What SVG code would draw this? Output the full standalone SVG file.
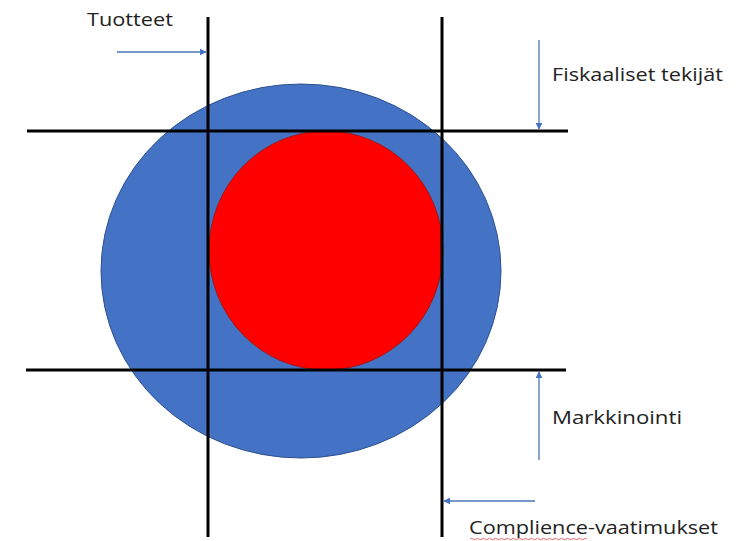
<svg xmlns="http://www.w3.org/2000/svg" width="740" height="541" viewBox="0 0 740 541">
<style>
.lbl{font-family:"Open Sans","Liberation Sans",sans-serif;font-size:19px;fill:#222}
.grid{stroke:#000;stroke-width:3;fill:none}
.arr{stroke:#4A76B8;stroke-width:1.3;fill:none;marker-end:url(#ah)}
</style>
<defs>
<marker id="ah" viewBox="0 0 10 10" refX="9" refY="5" markerWidth="7" markerHeight="7" markerUnits="userSpaceOnUse" orient="auto">
<path d="M0,0 L10,5 L0,10 z" fill="#4472C4"/>
</marker>
</defs>
<rect width="740" height="541" fill="#fff"/>
<g id="outer-circle"><ellipse cx="301" cy="271" rx="200" ry="187" fill="#4472C4" stroke="#2F528F" stroke-width="1"/></g>
<g id="inner-circle"><ellipse cx="326" cy="250.5" rx="117" ry="119.5" fill="#FF0000" stroke="#9E1A1A" stroke-width="1"/></g>
<g id="lines">
<line class="grid" x1="208" y1="17" x2="208" y2="537"/>
<line class="grid" x1="442" y1="17" x2="442" y2="537"/>
<line class="grid" x1="27" y1="131" x2="568" y2="131"/>
<line class="grid" x1="26" y1="370" x2="566" y2="370"/>
</g>
<g id="connectors">
<line class="arr" x1="117" y1="52" x2="206" y2="52"/>
<line class="arr" x1="539" y1="40" x2="539" y2="129"/>
<line class="arr" x1="539" y1="460" x2="539" y2="372"/>
<line class="arr" x1="535" y1="501" x2="444" y2="501"/>
</g>
<g id="label-tuotteet"><text class="lbl" x="87" y="26" textLength="86" lengthAdjust="spacingAndGlyphs">Tuotteet</text></g>
<g id="label-fiskaaliset"><text class="lbl" x="552" y="81" textLength="171" lengthAdjust="spacingAndGlyphs">Fiskaaliset tekijät</text></g>
<g id="label-markkinointi"><text class="lbl" x="552" y="424" textLength="130" lengthAdjust="spacingAndGlyphs">Markkinointi</text></g>
<g id="label-complience"><text class="lbl" x="469" y="534" textLength="249" lengthAdjust="spacingAndGlyphs">Complience-vaatimukset</text>
<path d="M470,539 q1.5,-1.5 3,0 t3,0 t3,0 t3,0 t3,0 t3,0 t3,0 t3,0 t3,0 t3,0 t3,0 t3,0 t3,0 t3,0 t3,0 t3,0 t3,0 t3,0 t3,0 t3,0 t3,0 t3,0 t3,0 t3,0 t3,0 t3,0 t3,0 t3,0 t3,0 t3,0 t3,0 t3,0 t3,0 t3,0 t3,0 t3,0 t3,0 t3,0 t3,0" fill="none" stroke="#E04040" stroke-width="0.8"/>
</g>
</svg>
